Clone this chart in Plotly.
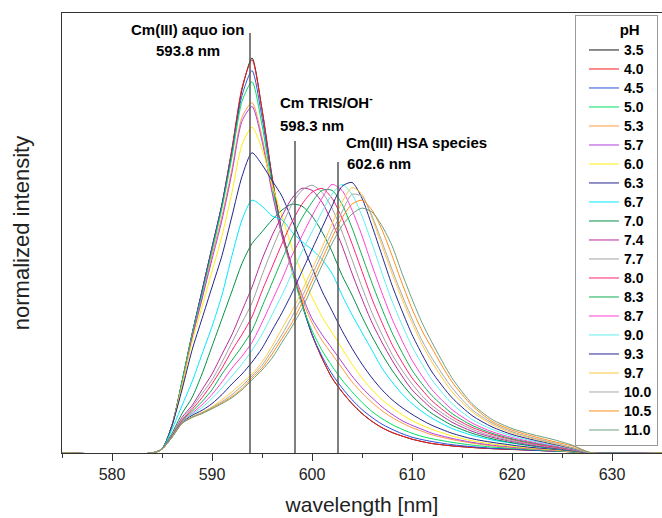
import plotly.graph_objects as go

# ---------------- data ----------------
wavelength = [575, 584, 585, 586, 587, 588, 589, 590, 591, 592, 593, 594, 595, 596, 597, 598, 599,
              600, 601, 602, 603, 604, 605, 606, 607, 608, 609, 610, 611, 612,
              614, 616, 618, 620, 622, 624, 626, 628, 635]

ph_labels = ["3.5", "4.0", "4.5", "5.0", "5.3", "5.7", "6.0", "6.3", "6.7", "7.0", "7.4",
             "7.7", "8.0", "8.3", "8.7", "9.0", "9.3", "9.7", "10.0", "10.5", "11.0"]

int_ph35 = [0, 0, .01, .07, .18, .30, .41, .52, .63, .77, .92, 1.0, .87, .70, .56, .47, .38, .30, .24, .19,
            .155, .125, .10, .08, .064, .052, .043, .035, .029, .024, .018, .014, .011, .009, .007, .005, .003, 0, 0]
int_ph40 = [0, 0, .01, .07, .18, .30, .41, .52, .63, .77, .925, .995, .87, .70, .56, .47, .38, .30, .24, .19,
            .155, .125, .10, .08, .064, .052, .043, .035, .029, .024, .018, .014, .011, .009, .007, .005, .003, 0, 0]
int_ph45 = [0, 0, .01, .07, .18, .30, .41, .52, .63, .76, .905, .968, .85, .69, .555, .465, .375, .30, .245, .20,
            .165, .135, .11, .09, .073, .06, .049, .04, .034, .029, .021, .016, .012, .01, .007, .005, .003, 0, 0]
int_ph50 = [0, 0, .01, .07, .18, .30, .40, .51, .62, .75, .89, .94, .83, .68, .55, .46, .375, .31, .26, .22,
            .185, .155, .128, .105, .087, .072, .06, .05, .042, .036, .027, .02, .015, .012, .009, .006, .003, 0, 0]
int_ph53 = [0, 0, .01, .07, .17, .29, .39, .50, .60, .72, .85, .887, .80, .665, .55, .465, .39, .33, .285, .25,
            .215, .18, .152, .128, .107, .09, .076, .064, .055, .046, .034, .025, .018, .014, .01, .007, .004, 0, 0]
int_ph57 = [0, 0, .01, .07, .17, .29, .39, .49, .59, .71, .84, .877, .79, .66, .55, .47, .40, .34, .30, .265,
            .23, .195, .165, .14, .117, .098, .082, .07, .06, .05, .037, .027, .02, .015, .011, .007, .004, 0, 0]
int_ph60 = [0, 0, .01, .07, .17, .28, .37, .46, .55, .66, .78, .825, .77, .68, .60, .52, .455, .395, .345, .305,
            .265, .225, .19, .16, .135, .115, .097, .082, .07, .06, .043, .031, .023, .017, .012, .008, .004, 0, 0]
int_ph63 = [0, 0, .01, .07, .16, .26, .34, .42, .50, .60, .70, .76, .73, .69, .65, .59, .53, .47, .41, .36,
            .31, .265, .225, .19, .16, .135, .115, .098, .083, .07, .05, .036, .027, .02, .014, .01, .005, 0, 0]
int_ph67 = [0, 0, .01, .06, .12, .18, .25, .32, .40, .50, .59, .64, .625, .60, .59, .56, .535, .515, .49, .455,
            .40, .35, .305, .26, .215, .18, .15, .125, .105, .088, .062, .045, .033, .025, .018, .012, .006, 0, 0]
int_ph70 = [0, 0, .01, .05, .10, .14, .20, .27, .34, .41, .48, .53, .56, .59, .615, .63, .625, .60, .56, .51,
            .45, .40, .345, .295, .25, .21, .175, .145, .12, .10, .07, .05, .036, .026, .018, .012, .006, 0, 0]
int_ph74 = [0, 0, .01, .045, .09, .12, .16, .20, .25, .30, .36, .42, .49, .55, .60, .645, .67, .665, .635, .585,
            .525, .455, .39, .33, .28, .235, .195, .16, .135, .112, .078, .055, .04, .029, .02, .013, .007, 0, 0]
int_ph77 = [0, 0, .01, .045, .085, .115, .15, .185, .23, .28, .33, .38, .45, .515, .575, .63, .665, .678, .66, .62,
            .56, .49, .42, .355, .30, .25, .21, .175, .145, .12, .085, .06, .043, .031, .022, .015, .008, 0, 0]
int_ph80 = [0, 0, .01, .043, .082, .11, .14, .175, .215, .26, .30, .345, .41, .47, .53, .585, .63, .66, .67, .645,
            .595, .53, .46, .39, .33, .275, .23, .19, .16, .132, .092, .065, .047, .034, .024, .016, .009, 0, 0]
int_ph83 = [0, 0, .01, .042, .08, .105, .13, .16, .20, .235, .27, .31, .37, .43, .49, .545, .595, .635, .665, .665,
            .63, .57, .50, .43, .365, .305, .255, .21, .175, .145, .10, .07, .05, .036, .026, .018, .01, 0, 0]
int_ph87 = [0, 0, .01, .041, .078, .10, .122, .148, .18, .215, .245, .28, .33, .385, .44, .50, .55, .60, .645, .68,
            .665, .615, .55, .475, .405, .34, .285, .235, .195, .16, .11, .076, .054, .039, .028, .019, .01, 0, 0]
int_ph90 = [0, 0, .01, .04, .077, .098, .115, .138, .165, .195, .225, .26, .30, .35, .40, .455, .51, .56, .61, .655,
            .68, .655, .60, .53, .455, .385, .325, .27, .225, .185, .125, .085, .06, .043, .031, .021, .011, 0, 0]
int_ph93 = [0, 0, .01, .04, .076, .095, .108, .125, .148, .175, .20, .23, .265, .31, .355, .405, .46, .515, .57, .625,
            .675, .685, .645, .575, .50, .425, .36, .30, .25, .205, .14, .095, .066, .047, .034, .023, .012, 0, 0]
int_ph97 = [0, 0, .01, .04, .075, .092, .103, .117, .135, .155, .177, .20, .23, .27, .315, .36, .41, .465, .52, .58,
            .635, .672, .655, .595, .525, .455, .39, .33, .275, .23, .155, .105, .072, .051, .037, .025, .013, 0, 0]
int_ph100 = [0, 0, .01, .04, .075, .091, .102, .115, .13, .148, .17, .195, .222, .26, .30, .345, .395, .45, .505, .56,
             .61, .655, .65, .60, .535, .465, .40, .34, .285, .24, .165, .11, .076, .054, .039, .027, .014, 0, 0]
int_ph105 = [0, 0, .01, .04, .075, .09, .10, .113, .127, .143, .163, .19, .215, .25, .29, .33, .38, .435, .49, .545,
             .595, .63, .64, .615, .565, .50, .43, .365, .31, .265, .18, .12, .08, .058, .043, .03, .018, 0, 0]
int_ph110 = [0, 0, .01, .04, .075, .09, .10, .112, .125, .14, .16, .185, .21, .24, .28, .32, .365, .42, .475, .53,
             .575, .605, .62, .61, .575, .525, .455, .39, .33, .28, .19, .125, .085, .062, .047, .035, .02, 0, 0]

series = [int_ph35, int_ph40, int_ph45, int_ph50, int_ph53, int_ph57, int_ph60, int_ph63, int_ph67, int_ph70,
          int_ph74, int_ph77, int_ph80, int_ph83, int_ph87, int_ph90, int_ph93, int_ph97, int_ph100, int_ph105,
          int_ph110]

peak_wavelengths = [593.8, 598.3, 602.6]
peak_species = ["Cm(III) aquo ion", "Cm TRIS/OH<sup>-</sup>", "Cm(III) HSA species"]

# ---------------- style ----------------
colors = ["#1a1a1a", "#ff1a1a", "#2a4fe0", "#00e060", "#ff9a40", "#b040e0", "#ffee10", "#23238f",
          "#00e8ff", "#00904a", "#b8289c", "#a0a0a0", "#ff2070", "#10b050", "#ff40d8", "#60f0f0",
          "#262690", "#ffc840", "#a8a8a8", "#ff8c1a", "#6fa080"]

for n, ys in enumerate(series):
    assert len(ys) == len(wavelength), (n, len(ys))

FONT = "Liberation Sans, Arial, sans-serif"

fig = go.Figure()
for lab, ys, col in zip(ph_labels, series, colors):
    fig.add_trace(go.Scatter(
        x=wavelength, y=ys, mode="lines",
        name=f"<span style='font-size:14px'><b>{lab}</b></span>",
        line=dict(color=col, width=1, shape="spline", smoothing=0.7),
    ))

line_tops = [1.063, 0.79, 0.737]
for wl, top in zip(peak_wavelengths, line_tops):
    fig.add_shape(type="line", xref="x", yref="y", x0=wl, x1=wl, y0=0, y1=top,
                  line=dict(color="#555555", width=1.5), layer="above")

label_pos = [  # (x, y, anchor) for species name and wavelength text
    ((587.5, 1.073, "center"), (587.6, 1.018, "center")),
    ((596.6, 0.889, "left"), (596.6, 0.830, "left")),
    ((603.2, 0.785, "left"), (603.3, 0.732, "left")),
]
for name, wl, (p1, p2) in zip(peak_species, peak_wavelengths, label_pos):
    fig.add_annotation(x=p1[0], y=p1[1], xanchor=p1[2], yanchor="middle", text=f"<b>{name}</b>",
                       showarrow=False, font=dict(family=FONT, size=15, color="black"))
    fig.add_annotation(x=p2[0], y=p2[1], xanchor=p2[2], yanchor="middle", text=f"<b>{wl} nm</b>",
                       showarrow=False, font=dict(family=FONT, size=15, color="black"))

fig.update_layout(
    width=662, height=518,
    margin=dict(l=62, r=0, t=13, b=65, pad=0),
    paper_bgcolor="white", plot_bgcolor="white",
    font=dict(family=FONT, color="black"),
    showlegend=True,
    legend=dict(x=0.9933, xanchor="right", y=0.9955, yanchor="top",
                bordercolor="#999999", borderwidth=1, bgcolor="white",
                font=dict(family=FONT, size=12, color="black"),
                title=dict(text="&nbsp;" * 10 + "<b>pH</b>", font=dict(family=FONT, size=15)),
                itemwidth=30, tracegroupgap=0, indentation=8),
)
fig.update_xaxes(
    range=[575, 635], showline=True, linecolor="#333333", linewidth=1.2, mirror=True,
    ticks="outside", ticklen=7, tickwidth=1.2, tickcolor="#333333", tick0=580, dtick=10,
    tickfont=dict(family=FONT, size=16, color="#222222"), showgrid=False, zeroline=False,
    minor=dict(ticks="outside", ticklen=4, dtick=5, tick0=575, tickcolor="#333333", showgrid=False),
    title=dict(text="wavelength [nm]", font=dict(family=FONT, size=21, color="#222222"), standoff=15),
    automargin=False,
)
fig.update_yaxes(
    range=[0, 1.1139], showline=True, linecolor="#333333", linewidth=1.2,
    showticklabels=False, ticks="", showgrid=False, zeroline=False,
    title=dict(text="normalized intensity", font=dict(family=FONT, size=22, color="#222222"), standoff=25),
    automargin=False,
)

fig.write_html("out.html",
               config={"displayModeBar": False},
               post_script="document.body.style.margin='0px';document.body.style.overflow='hidden';")
